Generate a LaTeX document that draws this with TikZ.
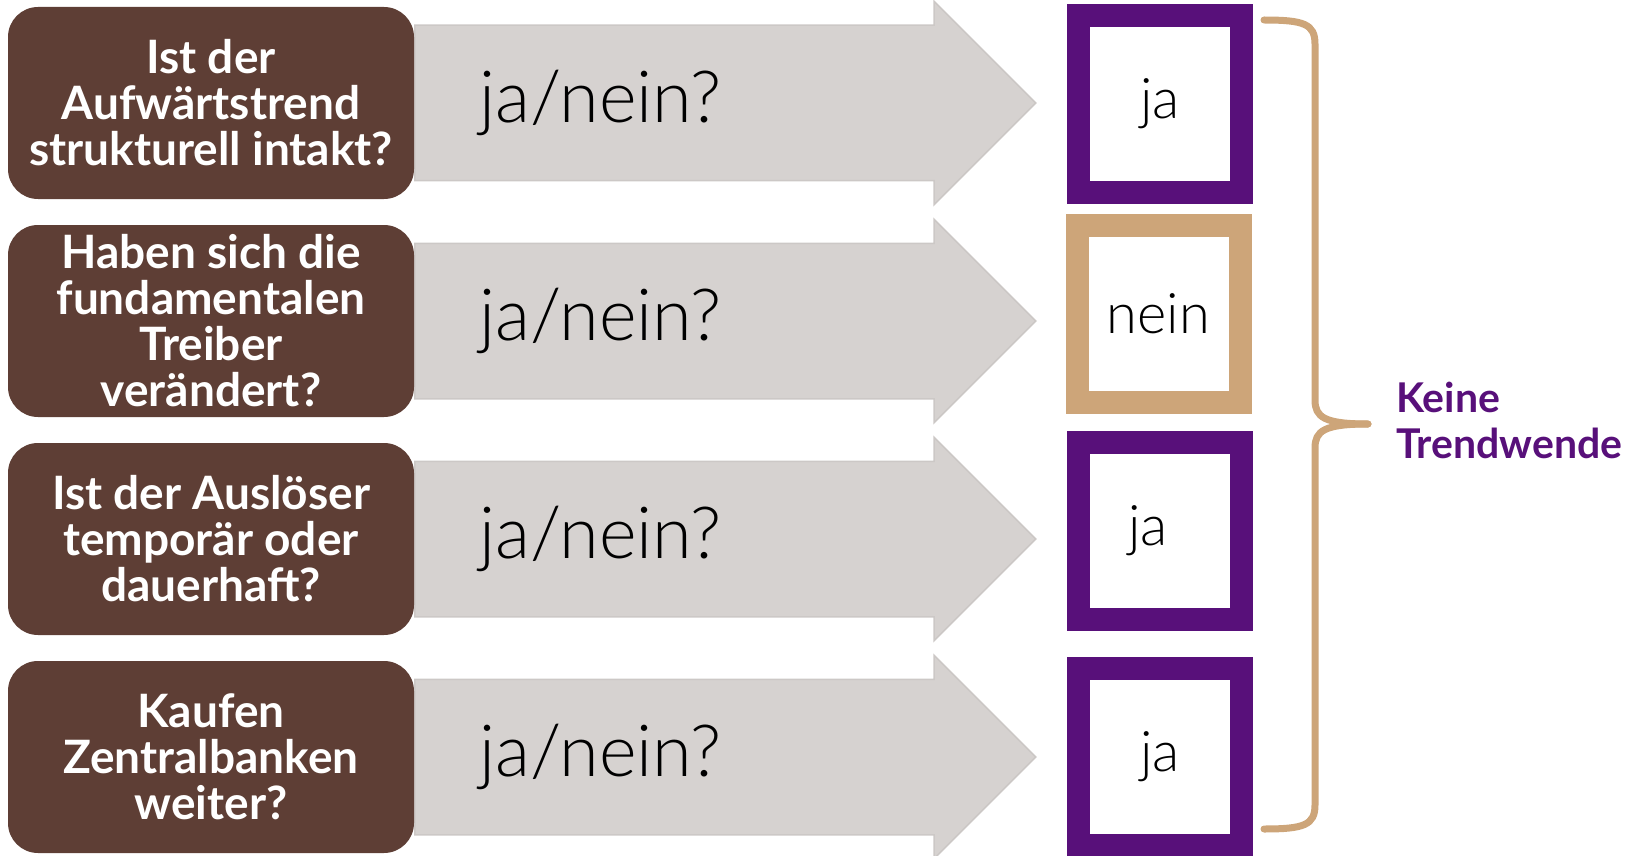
\documentclass[tikz,border=0pt]{standalone}
\usepackage{fontspec}
\setmainfont{Lato}
\newfontfamily\lightfont{Lato Light}
\usetikzlibrary{positioning,shapes.arrows}

\definecolor{qbrown}{RGB}{94,62,53}
\definecolor{arrowgray}{RGB}{214,210,208}
\definecolor{arrowedge}{RGB}{204,200,198}
\definecolor{yespurple}{RGB}{88,16,122}
\definecolor{notan}{RGB}{205,165,121}

\tikzset{%
  question/.style={
    rectangle,
    rounded corners=30pt,
    fill=qbrown,
    text=white,
    minimum width=406pt,
    minimum height=192pt,
    inner sep=0pt,
    align=center,
    font=\bfseries\fontsize{46}{46}\selectfont
  },
  big arrow/.style={
    single arrow,
    single arrow head extend=24pt,
    single arrow head indent=0pt,
    minimum width=202pt,
    minimum height=621pt,
    inner xsep=0pt,
    inner ysep=77pt,
    fill=arrowgray,
    draw=arrowedge,
    line width=1.5pt
  },
  choice/.style={
    anchor=west,
    inner sep=0pt,
    font=\lightfont\fontsize{72}{76}\selectfont
  },
  answer yes/.style={
    rectangle,
    draw=yespurple,
    fill=white,
    line width=23pt,
    minimum width=163pt,
    minimum height=177pt,
    inner sep=0pt,
    font=\lightfont\fontsize{56}{60}\selectfont
  },
  answer no/.style={
    answer yes,
    draw=notan
  },
  brace/.style={
    draw=notan,
    line width=7pt,
    line cap=round
  },
}

\begin{document}
\begin{tikzpicture}[x=1pt, y=-1pt]
\useasboundingbox (0,0) rectangle (1634,856);

% ARROWS
\foreach \i in {1,...,4}
  \node [big arrow, anchor=tail]
    (arrow-\i) at (414,{103+218*(\i-1)}) {};

% QUESTIONS
\foreach \t [count=\i] in {{Ist der\\Aufwärtstrend\\strukturell intakt?},
    {Haben sich die\\fundamentalen\\Treiber\\verändert?},
    {Ist der Auslöser\\temporär oder\\dauerhaft?},
    {Kaufen\\Zentralbanken\\weiter?}}
  \node [question] (question-\i) at (211,{103+218*(\i-1)}) {\t};

% CHOICE labels
\foreach \i in {1,...,4}
  \node [choice, right=65pt of arrow-\i.tail] (choice-\i) {ja/nein?};

% ANSWERS
\foreach \a/\s/\x/\y/\o [count=\i] in {ja/yes/1160/104/0, nein/no/1158.5/314/0,
    ja/yes/1160/531/24, ja/yes/1160/757/0}
  \node [answer \s] (answer-\i) at (\x,\y) {\a\hspace*{\o pt}};

% BRACE
\coordinate (brace-top) at (1264,20);
\coordinate (brace-tip) at (1368,424);
\coordinate (brace-bottom) at (1264,829);
\draw [brace] (brace-top) .. controls (1304,20) and (1315,24) .. (1315,44)
  -- (1315,400) .. controls (1315,417) and (1324,424) .. (brace-tip);
\draw [brace] (brace-tip) .. controls (1324,424) and (1315,431) .. (1315,448)
  -- (1315,805) .. controls (1315,825) and (1304,829) .. (brace-bottom);

% RESULT label
\node [right=28pt of brace-tip, anchor=west, yshift=4pt, inner sep=0pt,
  align=left, text=yespurple, font=\bfseries\fontsize{41}{46}\selectfont]
  (result) {Keine\\Trendwende};

\end{tikzpicture}
\end{document}
